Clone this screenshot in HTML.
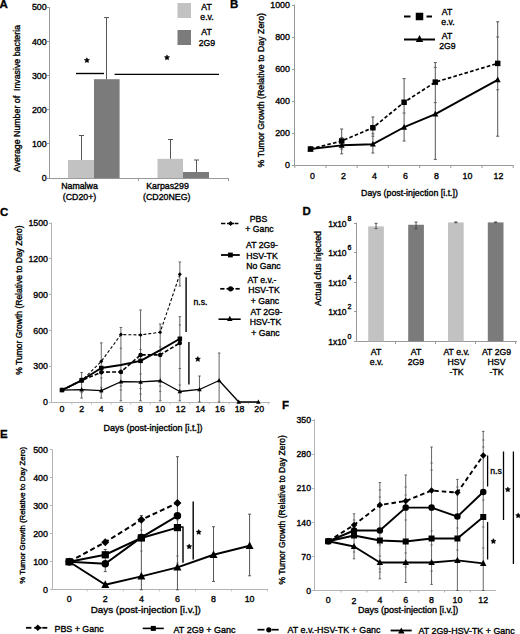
<!DOCTYPE html>
<html><head><meta charset="utf-8"><style>
html,body{margin:0;padding:0;background:#fff;}
svg{display:block;font-family:"Liberation Sans", sans-serif;}
</style></head><body>
<svg width="520" height="634" viewBox="0 0 520 634">
<rect width="520" height="634" fill="#fff"/>
<text x="-0.4" y="8.2" font-size="11.5" text-anchor="start" font-weight="bold" fill="#000" stroke="#000" stroke-width="0.3">A</text>
<line x1="49.5" y1="7.1" x2="49.5" y2="178.5" stroke="#999999" stroke-width="1"/>
<line x1="47" y1="178.5" x2="49.5" y2="178.5" stroke="#999999" stroke-width="1"/>
<text x="46.7" y="181.29999999999998" font-size="8.9" text-anchor="end" fill="#000" stroke="#000" stroke-width="0.35">0</text>
<line x1="47" y1="143.5" x2="49.5" y2="143.5" stroke="#999999" stroke-width="1"/>
<text x="46.7" y="147.09999999999997" font-size="8.9" text-anchor="end" fill="#000" stroke="#000" stroke-width="0.35">100</text>
<line x1="47" y1="109.5" x2="49.5" y2="109.5" stroke="#999999" stroke-width="1"/>
<text x="46.7" y="112.89999999999999" font-size="8.9" text-anchor="end" fill="#000" stroke="#000" stroke-width="0.35">200</text>
<line x1="47" y1="75.5" x2="49.5" y2="75.5" stroke="#999999" stroke-width="1"/>
<text x="46.7" y="78.69999999999999" font-size="8.9" text-anchor="end" fill="#000" stroke="#000" stroke-width="0.35">300</text>
<line x1="47" y1="41.5" x2="49.5" y2="41.5" stroke="#999999" stroke-width="1"/>
<text x="46.7" y="44.499999999999986" font-size="8.9" text-anchor="end" fill="#000" stroke="#000" stroke-width="0.35">400</text>
<line x1="47" y1="7.5" x2="49.5" y2="7.5" stroke="#999999" stroke-width="1"/>
<text x="46.7" y="10.299999999999994" font-size="8.9" text-anchor="end" fill="#000" stroke="#000" stroke-width="0.35">500</text>
<line x1="49" y1="178.5" x2="229" y2="178.5" stroke="#999999" stroke-width="1"/>
<line x1="138.5" y1="178.5" x2="138.5" y2="181" stroke="#999999" stroke-width="1"/>
<line x1="228.5" y1="178.5" x2="228.5" y2="181" stroke="#999999" stroke-width="1"/>
<rect x="68" y="160" width="26" height="18.1" fill="#c2c2c2"/>
<rect x="94" y="79.2" width="25.6" height="98.9" fill="#7b7b7b"/>
<rect x="157.5" y="158.8" width="25.5" height="19.3" fill="#c2c2c2"/>
<rect x="183" y="172" width="26" height="6.1" fill="#7b7b7b"/>
<line x1="81.5" y1="135.5" x2="81.5" y2="160" stroke="#555" stroke-width="1"/>
<line x1="79.0" y1="135.5" x2="84.0" y2="135.5" stroke="#555" stroke-width="1"/>
<line x1="106.5" y1="17.6" x2="106.5" y2="79.2" stroke="#555" stroke-width="1"/>
<line x1="104.0" y1="17.6" x2="109.0" y2="17.6" stroke="#555" stroke-width="1"/>
<line x1="170.5" y1="139.5" x2="170.5" y2="158.8" stroke="#555" stroke-width="1"/>
<line x1="168.0" y1="139.5" x2="173.0" y2="139.5" stroke="#555" stroke-width="1"/>
<line x1="196.5" y1="160" x2="196.5" y2="172" stroke="#555" stroke-width="1"/>
<line x1="194.0" y1="160" x2="199.0" y2="160" stroke="#555" stroke-width="1"/>
<line x1="76" y1="73.5" x2="104" y2="73.5" stroke="#000" stroke-width="1.4"/>
<line x1="114.6" y1="74.4" x2="219" y2="74.4" stroke="#000" stroke-width="1.4"/>
<polygon points="86.90,57.70 87.69,59.31 89.47,59.57 88.18,60.82 88.49,62.58 86.90,61.75 85.31,62.58 85.62,60.82 84.33,59.57 86.11,59.31" fill="#000" stroke="#000" stroke-width="0.5" stroke-linejoin="round"/>
<polygon points="167.00,54.90 167.79,56.51 169.57,56.77 168.28,58.02 168.59,59.78 167.00,58.95 165.41,59.78 165.72,58.02 164.43,56.77 166.21,56.51" fill="#000" stroke="#000" stroke-width="0.5" stroke-linejoin="round"/>
<rect x="177.5" y="3" width="13.5" height="15" fill="#c2c2c2"/>
<rect x="177.5" y="30" width="13.5" height="15" fill="#7b7b7b"/>
<text x="206.5" y="9.5" font-size="8.7" text-anchor="middle" fill="#000" stroke="#000" stroke-width="0.35">AT</text>
<text x="207" y="19.6" font-size="8.7" text-anchor="middle" fill="#000" stroke="#000" stroke-width="0.35">e.v.</text>
<text x="206.5" y="35.3" font-size="8.7" text-anchor="middle" fill="#000" stroke="#000" stroke-width="0.35">AT</text>
<text x="207" y="46.3" font-size="8.7" text-anchor="middle" fill="#000" stroke="#000" stroke-width="0.35">2G9</text>
<text x="79.5" y="189.3" font-size="8.8" text-anchor="middle" fill="#000" stroke="#000" stroke-width="0.35">Namalwa</text>
<text x="79.5" y="199.6" font-size="8.8" text-anchor="middle" fill="#000" stroke="#000" stroke-width="0.35">(CD20+)</text>
<text x="167.5" y="189.3" font-size="8.8" text-anchor="middle" fill="#000" stroke="#000" stroke-width="0.35">Karpas299</text>
<text x="166.8" y="199.6" font-size="8.8" text-anchor="middle" fill="#000" stroke="#000" stroke-width="0.35">(CD20NEG)</text>
<text x="20.2" y="98.5" font-size="8.8" text-anchor="middle" transform="rotate(-90 20.2 98.5)" fill="#000" stroke="#000" stroke-width="0.35" xml:space="preserve">Average Number of  Invasive bacteria</text>
<text x="230.0" y="8.0" font-size="11.5" text-anchor="start" font-weight="bold" fill="#000" stroke="#000" stroke-width="0.3">B</text>
<line x1="294.5" y1="4.5" x2="294.5" y2="165.5" stroke="#999999" stroke-width="1"/>
<line x1="292" y1="165.5" x2="294.5" y2="165.5" stroke="#999999" stroke-width="1"/>
<text x="290.0" y="168.2" font-size="8.9" text-anchor="end" fill="#000" stroke="#000" stroke-width="0.35">0</text>
<line x1="292" y1="133.5" x2="294.5" y2="133.5" stroke="#999999" stroke-width="1"/>
<text x="290.0" y="136.2" font-size="8.9" text-anchor="end" fill="#000" stroke="#000" stroke-width="0.35">200</text>
<line x1="292" y1="101.5" x2="294.5" y2="101.5" stroke="#999999" stroke-width="1"/>
<text x="290.0" y="104.2" font-size="8.9" text-anchor="end" fill="#000" stroke="#000" stroke-width="0.35">400</text>
<line x1="292" y1="69.5" x2="294.5" y2="69.5" stroke="#999999" stroke-width="1"/>
<text x="290.0" y="72.2" font-size="8.9" text-anchor="end" fill="#000" stroke="#000" stroke-width="0.35">600</text>
<line x1="292" y1="37.5" x2="294.5" y2="37.5" stroke="#999999" stroke-width="1"/>
<text x="290.0" y="40.2" font-size="8.9" text-anchor="end" fill="#000" stroke="#000" stroke-width="0.35">800</text>
<line x1="292" y1="5.5" x2="294.5" y2="5.5" stroke="#999999" stroke-width="1"/>
<text x="290.0" y="8.2" font-size="8.9" text-anchor="end" fill="#000" stroke="#000" stroke-width="0.35">1000</text>
<line x1="294.5" y1="165.5" x2="513.5" y2="165.5" stroke="#999999" stroke-width="1"/>
<line x1="294.8" y1="165.5" x2="294.8" y2="168" stroke="#999999" stroke-width="1"/>
<line x1="326.0" y1="165.5" x2="326.0" y2="168" stroke="#999999" stroke-width="1"/>
<line x1="357.2" y1="165.5" x2="357.2" y2="168" stroke="#999999" stroke-width="1"/>
<line x1="388.4" y1="165.5" x2="388.4" y2="168" stroke="#999999" stroke-width="1"/>
<line x1="419.6" y1="165.5" x2="419.6" y2="168" stroke="#999999" stroke-width="1"/>
<line x1="450.8" y1="165.5" x2="450.8" y2="168" stroke="#999999" stroke-width="1"/>
<line x1="482.0" y1="165.5" x2="482.0" y2="168" stroke="#999999" stroke-width="1"/>
<line x1="513.2" y1="165.5" x2="513.2" y2="168" stroke="#999999" stroke-width="1"/>
<text x="312.4" y="178.6" font-size="8.8" text-anchor="middle" fill="#000" stroke="#000" stroke-width="0.35">0</text>
<text x="343.4" y="178.6" font-size="8.8" text-anchor="middle" fill="#000" stroke="#000" stroke-width="0.35">2</text>
<text x="374.4" y="178.6" font-size="8.8" text-anchor="middle" fill="#000" stroke="#000" stroke-width="0.35">4</text>
<text x="405.4" y="178.6" font-size="8.8" text-anchor="middle" fill="#000" stroke="#000" stroke-width="0.35">6</text>
<text x="436.4" y="178.6" font-size="8.8" text-anchor="middle" fill="#000" stroke="#000" stroke-width="0.35">8</text>
<text x="467.4" y="178.6" font-size="8.8" text-anchor="middle" fill="#000" stroke="#000" stroke-width="0.35">10</text>
<text x="498.4" y="178.6" font-size="8.8" text-anchor="middle" fill="#000" stroke="#000" stroke-width="0.35">12</text>
<text x="409.5" y="195.5" font-size="8.8" text-anchor="middle" fill="#000" stroke="#000" stroke-width="0.35">Days (post-injection [i.t.])</text>
<text x="264.5" y="90.2" font-size="8.8" text-anchor="middle" transform="rotate(-90 264.5 90.2)" fill="#000" stroke="#000" stroke-width="0.35">% Tumor Growth (Relative to Day Zero)</text>
<line x1="341.7" y1="129.0" x2="341.7" y2="153.8" stroke="#555" stroke-width="1"/>
<line x1="340.2" y1="129.0" x2="343.2" y2="129.0" stroke="#555" stroke-width="1"/>
<line x1="340.2" y1="153.8" x2="343.2" y2="153.8" stroke="#555" stroke-width="1"/>
<line x1="372.9" y1="117.0" x2="372.9" y2="153.0" stroke="#555" stroke-width="1"/>
<line x1="371.4" y1="117.0" x2="374.4" y2="117.0" stroke="#555" stroke-width="1"/>
<line x1="371.4" y1="153.0" x2="374.4" y2="153.0" stroke="#555" stroke-width="1"/>
<line x1="404.1" y1="78.6" x2="404.1" y2="141.0" stroke="#555" stroke-width="1"/>
<line x1="402.6" y1="78.6" x2="405.6" y2="78.6" stroke="#555" stroke-width="1"/>
<line x1="402.6" y1="141.0" x2="405.6" y2="141.0" stroke="#555" stroke-width="1"/>
<line x1="435.3" y1="62.599999999999994" x2="435.3" y2="159.4" stroke="#555" stroke-width="1"/>
<line x1="433.8" y1="62.599999999999994" x2="436.8" y2="62.599999999999994" stroke="#555" stroke-width="1"/>
<line x1="433.8" y1="159.4" x2="436.8" y2="159.4" stroke="#555" stroke-width="1"/>
<line x1="497.7" y1="21.799999999999983" x2="497.7" y2="136.2" stroke="#555" stroke-width="1"/>
<line x1="496.2" y1="21.799999999999983" x2="499.2" y2="21.799999999999983" stroke="#555" stroke-width="1"/>
<line x1="496.2" y1="136.2" x2="499.2" y2="136.2" stroke="#555" stroke-width="1"/>
<line x1="340.2" y1="137.48" x2="343.2" y2="137.48" stroke="#555" stroke-width="0.9"/>
<line x1="340.2" y1="149.0" x2="343.2" y2="149.0" stroke="#555" stroke-width="0.9"/>
<line x1="371.4" y1="133.8" x2="374.4" y2="133.8" stroke="#555" stroke-width="0.9"/>
<line x1="371.4" y1="136.2" x2="374.4" y2="136.2" stroke="#555" stroke-width="0.9"/>
<line x1="402.6" y1="113.0" x2="405.6" y2="113.0" stroke="#555" stroke-width="0.9"/>
<line x1="402.6" y1="126.6" x2="405.6" y2="126.6" stroke="#555" stroke-width="0.9"/>
<line x1="433.8" y1="67.39999999999999" x2="436.8" y2="67.39999999999999" stroke="#555" stroke-width="0.9"/>
<line x1="433.8" y1="102.6" x2="436.8" y2="102.6" stroke="#555" stroke-width="0.9"/>
<line x1="496.2" y1="37.0" x2="499.2" y2="37.0" stroke="#555" stroke-width="0.9"/>
<line x1="496.2" y1="89.8" x2="499.2" y2="89.8" stroke="#555" stroke-width="0.9"/>
<polyline points="310.50,149.00 341.70,141.00 372.90,127.72 404.10,102.28 435.30,82.12 497.70,63.40" fill="none" stroke="#000" stroke-width="1.7" stroke-dasharray="3.6,2.2" stroke-linejoin="round"/>
<polyline points="310.50,149.00 341.70,145.32 372.90,144.20 404.10,127.24 435.30,114.12 497.70,79.88" fill="none" stroke="#000" stroke-width="1.9" stroke-linejoin="round"/>
<rect x="307.75" y="146.25" width="5.5" height="5.5" fill="#000"/>
<rect x="338.95" y="138.25" width="5.5" height="5.5" fill="#000"/>
<rect x="370.15" y="124.97" width="5.5" height="5.5" fill="#000"/>
<rect x="401.35" y="99.53" width="5.5" height="5.5" fill="#000"/>
<rect x="432.55" y="79.37" width="5.5" height="5.5" fill="#000"/>
<rect x="494.95" y="60.65" width="5.5" height="5.5" fill="#000"/>
<polygon points="310.50,145.70 313.50,151.40 307.50,151.40" fill="#000"/>
<polygon points="341.70,142.02 344.70,147.72 338.70,147.72" fill="#000"/>
<polygon points="372.90,140.90 375.90,146.60 369.90,146.60" fill="#000"/>
<polygon points="404.10,123.94 407.10,129.64 401.10,129.64" fill="#000"/>
<polygon points="435.30,110.82 438.30,116.52 432.30,116.52" fill="#000"/>
<polygon points="497.70,76.58 500.70,82.28 494.70,82.28" fill="#000"/>
<line x1="404" y1="16.5" x2="410.5" y2="16.5" stroke="#000" stroke-width="2"/>
<line x1="426.5" y1="16.5" x2="432" y2="16.5" stroke="#000" stroke-width="2"/>
<rect x="415.75" y="12.75" width="7.5" height="7.5" fill="#000"/>
<text x="447" y="14.5" font-size="8.7" text-anchor="middle" fill="#000" stroke="#000" stroke-width="0.35">AT</text>
<text x="448" y="25" font-size="8.7" text-anchor="middle" fill="#000" stroke="#000" stroke-width="0.35">e.v.</text>
<line x1="404" y1="39.5" x2="435" y2="39.5" stroke="#000" stroke-width="2"/>
<polygon points="419.50,34.88 423.25,42.00 415.75,42.00" fill="#000"/>
<text x="447" y="38.5" font-size="8.7" text-anchor="middle" fill="#000" stroke="#000" stroke-width="0.35">AT</text>
<text x="447.5" y="49" font-size="8.7" text-anchor="middle" fill="#000" stroke="#000" stroke-width="0.35">2G9</text>
<text x="0.0" y="215.6" font-size="11.5" text-anchor="start" font-weight="bold" fill="#000" stroke="#000" stroke-width="0.3">C</text>
<line x1="51.5" y1="222.5" x2="51.5" y2="402.5" stroke="#b4b4b4" stroke-width="1"/>
<line x1="49" y1="402.5" x2="51.5" y2="402.5" stroke="#b4b4b4" stroke-width="1"/>
<text x="48.0" y="405.2" font-size="8.8" text-anchor="end" fill="#000" stroke="#000" stroke-width="0.35">0</text>
<line x1="49" y1="366.5" x2="51.5" y2="366.5" stroke="#b4b4b4" stroke-width="1"/>
<text x="48.0" y="369.40999999999997" font-size="8.8" text-anchor="end" fill="#000" stroke="#000" stroke-width="0.35">300</text>
<line x1="49" y1="330.5" x2="51.5" y2="330.5" stroke="#b4b4b4" stroke-width="1"/>
<text x="48.0" y="333.62" font-size="8.8" text-anchor="end" fill="#000" stroke="#000" stroke-width="0.35">600</text>
<line x1="49" y1="294.5" x2="51.5" y2="294.5" stroke="#b4b4b4" stroke-width="1"/>
<text x="48.0" y="297.83" font-size="8.8" text-anchor="end" fill="#000" stroke="#000" stroke-width="0.35">900</text>
<line x1="49" y1="258.5" x2="51.5" y2="258.5" stroke="#b4b4b4" stroke-width="1"/>
<text x="48.0" y="262.04" font-size="8.8" text-anchor="end" fill="#000" stroke="#000" stroke-width="0.35">1200</text>
<line x1="49" y1="223.5" x2="51.5" y2="223.5" stroke="#b4b4b4" stroke-width="1"/>
<text x="48.0" y="226.24999999999997" font-size="8.8" text-anchor="end" fill="#000" stroke="#000" stroke-width="0.35">1500</text>
<line x1="51.5" y1="402.5" x2="270" y2="402.5" stroke="#b4b4b4" stroke-width="1"/>
<line x1="71.82" y1="402.5" x2="71.82" y2="404.5" stroke="#b4b4b4" stroke-width="0.8"/>
<line x1="91.46000000000001" y1="402.5" x2="91.46000000000001" y2="404.5" stroke="#b4b4b4" stroke-width="0.8"/>
<line x1="111.1" y1="402.5" x2="111.1" y2="404.5" stroke="#b4b4b4" stroke-width="0.8"/>
<line x1="130.74" y1="402.5" x2="130.74" y2="404.5" stroke="#b4b4b4" stroke-width="0.8"/>
<line x1="150.38" y1="402.5" x2="150.38" y2="404.5" stroke="#b4b4b4" stroke-width="0.8"/>
<line x1="170.01999999999998" y1="402.5" x2="170.01999999999998" y2="404.5" stroke="#b4b4b4" stroke-width="0.8"/>
<line x1="189.66" y1="402.5" x2="189.66" y2="404.5" stroke="#b4b4b4" stroke-width="0.8"/>
<line x1="209.3" y1="402.5" x2="209.3" y2="404.5" stroke="#b4b4b4" stroke-width="0.8"/>
<line x1="228.94" y1="402.5" x2="228.94" y2="404.5" stroke="#b4b4b4" stroke-width="0.8"/>
<line x1="248.57999999999998" y1="402.5" x2="248.57999999999998" y2="404.5" stroke="#b4b4b4" stroke-width="0.8"/>
<line x1="268.21999999999997" y1="402.5" x2="268.21999999999997" y2="404.5" stroke="#b4b4b4" stroke-width="0.8"/>
<text x="62.0" y="412.3" font-size="8.8" text-anchor="middle" fill="#000" stroke="#000" stroke-width="0.35">0</text>
<text x="81.64" y="412.3" font-size="8.8" text-anchor="middle" fill="#000" stroke="#000" stroke-width="0.35">2</text>
<text x="101.28" y="412.3" font-size="8.8" text-anchor="middle" fill="#000" stroke="#000" stroke-width="0.35">4</text>
<text x="120.92" y="412.3" font-size="8.8" text-anchor="middle" fill="#000" stroke="#000" stroke-width="0.35">6</text>
<text x="140.56" y="412.3" font-size="8.8" text-anchor="middle" fill="#000" stroke="#000" stroke-width="0.35">8</text>
<text x="160.2" y="412.3" font-size="8.8" text-anchor="middle" fill="#000" stroke="#000" stroke-width="0.35">10</text>
<text x="180.64000000000001" y="412.3" font-size="8.8" text-anchor="middle" fill="#000" stroke="#000" stroke-width="0.35">12</text>
<text x="200.28000000000003" y="412.3" font-size="8.8" text-anchor="middle" fill="#000" stroke="#000" stroke-width="0.35">14</text>
<text x="219.92000000000002" y="412.3" font-size="8.8" text-anchor="middle" fill="#000" stroke="#000" stroke-width="0.35">16</text>
<text x="239.56" y="412.3" font-size="8.8" text-anchor="middle" fill="#000" stroke="#000" stroke-width="0.35">18</text>
<text x="259.2" y="412.3" font-size="8.8" text-anchor="middle" fill="#000" stroke="#000" stroke-width="0.35">20</text>
<text x="153" y="430.5" font-size="9.0" text-anchor="middle" fill="#000" stroke="#000" stroke-width="0.35">Days (post-injection [i.t.])</text>
<text x="22.2" y="300.1" font-size="8.5" text-anchor="middle" transform="rotate(-90 22.2 300.1)" fill="#000" stroke="#000" stroke-width="0.35">% Tumor Growth (Relative to Day Zero)</text>
<line x1="81.64" y1="372.5" x2="81.64" y2="398.1" stroke="#555" stroke-width="0.9"/>
<line x1="80.34" y1="372.5" x2="82.94" y2="372.5" stroke="#555" stroke-width="0.9"/>
<line x1="80.34" y1="398.1" x2="82.94" y2="398.1" stroke="#555" stroke-width="0.9"/>
<line x1="80.44" y1="377.9" x2="82.84" y2="377.9" stroke="#555" stroke-width="0.8"/>
<line x1="80.44" y1="392.7" x2="82.84" y2="392.7" stroke="#555" stroke-width="0.8"/>
<line x1="101.28" y1="342.9" x2="101.28" y2="398.1" stroke="#555" stroke-width="0.9"/>
<line x1="99.98" y1="342.9" x2="102.58" y2="342.9" stroke="#555" stroke-width="0.9"/>
<line x1="99.98" y1="398.1" x2="102.58" y2="398.1" stroke="#555" stroke-width="0.9"/>
<line x1="100.08" y1="360.4" x2="102.48" y2="360.4" stroke="#555" stroke-width="0.8"/>
<line x1="100.08" y1="377.9" x2="102.48" y2="377.9" stroke="#555" stroke-width="0.8"/>
<line x1="100.08" y1="387.3" x2="102.48" y2="387.3" stroke="#555" stroke-width="0.8"/>
<line x1="100.08" y1="392.7" x2="102.48" y2="392.7" stroke="#555" stroke-width="0.8"/>
<line x1="120.92" y1="327.5" x2="120.92" y2="400.8" stroke="#555" stroke-width="0.9"/>
<line x1="119.62" y1="327.5" x2="122.22" y2="327.5" stroke="#555" stroke-width="0.9"/>
<line x1="119.62" y1="400.8" x2="122.22" y2="400.8" stroke="#555" stroke-width="0.9"/>
<line x1="119.72" y1="348.3" x2="122.12" y2="348.3" stroke="#555" stroke-width="0.8"/>
<line x1="119.72" y1="369.8" x2="122.12" y2="369.8" stroke="#555" stroke-width="0.8"/>
<line x1="119.72" y1="386" x2="122.12" y2="386" stroke="#555" stroke-width="0.8"/>
<line x1="119.72" y1="390" x2="122.12" y2="390" stroke="#555" stroke-width="0.8"/>
<line x1="140.56" y1="310" x2="140.56" y2="400.8" stroke="#555" stroke-width="0.9"/>
<line x1="139.26" y1="310" x2="141.86" y2="310" stroke="#555" stroke-width="0.9"/>
<line x1="139.26" y1="400.8" x2="141.86" y2="400.8" stroke="#555" stroke-width="0.9"/>
<line x1="139.36" y1="349.6" x2="141.76" y2="349.6" stroke="#555" stroke-width="0.8"/>
<line x1="139.36" y1="374" x2="141.76" y2="374" stroke="#555" stroke-width="0.8"/>
<line x1="139.36" y1="388.6" x2="141.76" y2="388.6" stroke="#555" stroke-width="0.8"/>
<line x1="139.36" y1="394" x2="141.76" y2="394" stroke="#555" stroke-width="0.8"/>
<line x1="160.2" y1="324" x2="160.2" y2="400.8" stroke="#555" stroke-width="0.9"/>
<line x1="158.89999999999998" y1="324" x2="161.5" y2="324" stroke="#555" stroke-width="0.9"/>
<line x1="158.89999999999998" y1="400.8" x2="161.5" y2="400.8" stroke="#555" stroke-width="0.9"/>
<line x1="159.0" y1="347" x2="161.39999999999998" y2="347" stroke="#555" stroke-width="0.8"/>
<line x1="159.0" y1="351" x2="161.39999999999998" y2="351" stroke="#555" stroke-width="0.8"/>
<line x1="159.0" y1="386" x2="161.39999999999998" y2="386" stroke="#555" stroke-width="0.8"/>
<line x1="159.0" y1="391.3" x2="161.39999999999998" y2="391.3" stroke="#555" stroke-width="0.8"/>
<line x1="179.84" y1="262" x2="179.84" y2="286" stroke="#555" stroke-width="0.9"/>
<line x1="178.54" y1="262" x2="181.14000000000001" y2="262" stroke="#555" stroke-width="0.9"/>
<line x1="178.54" y1="286" x2="181.14000000000001" y2="286" stroke="#555" stroke-width="0.9"/>
<line x1="179.84" y1="316.7" x2="179.84" y2="400.8" stroke="#555" stroke-width="0.9"/>
<line x1="178.54" y1="316.7" x2="181.14000000000001" y2="316.7" stroke="#555" stroke-width="0.9"/>
<line x1="178.54" y1="400.8" x2="181.14000000000001" y2="400.8" stroke="#555" stroke-width="0.9"/>
<line x1="178.64000000000001" y1="325" x2="181.04" y2="325" stroke="#555" stroke-width="0.8"/>
<line x1="178.64000000000001" y1="368.5" x2="181.04" y2="368.5" stroke="#555" stroke-width="0.8"/>
<line x1="178.64000000000001" y1="385" x2="181.04" y2="385" stroke="#555" stroke-width="0.8"/>
<line x1="199.48000000000002" y1="376" x2="199.48000000000002" y2="402" stroke="#555" stroke-width="0.9"/>
<line x1="198.18" y1="376" x2="200.78000000000003" y2="376" stroke="#555" stroke-width="0.9"/>
<line x1="198.18" y1="402" x2="200.78000000000003" y2="402" stroke="#555" stroke-width="0.9"/>
<line x1="219.12" y1="353" x2="219.12" y2="402" stroke="#555" stroke-width="0.9"/>
<line x1="217.82" y1="353" x2="220.42000000000002" y2="353" stroke="#555" stroke-width="0.9"/>
<line x1="217.82" y1="402" x2="220.42000000000002" y2="402" stroke="#555" stroke-width="0.9"/>
<polyline points="62.00,390.07 81.64,380.76 101.28,361.44 120.92,334.60 140.56,334.95 160.20,332.21 179.84,274.35" fill="none" stroke="#000" stroke-width="1.1" stroke-dasharray="3,2" stroke-linejoin="round"/>
<polyline points="62.00,390.07 81.64,380.29 101.28,368.00 120.92,365.02 140.56,360.84 160.20,350.10 179.84,338.77" fill="none" stroke="#000" stroke-width="1.9" stroke-linejoin="round"/>
<polyline points="62.00,390.07 81.64,380.53 101.28,372.18 120.92,371.94 140.56,354.88 160.20,354.88 179.84,342.95" fill="none" stroke="#000" stroke-width="1.6" stroke-dasharray="4,2" stroke-linejoin="round"/>
<polyline points="62.00,390.07 81.64,389.59 101.28,390.55 120.92,381.72 140.56,381.96 160.20,380.76 179.84,391.50 199.48,389.47 219.12,380.53 238.76,402.00 258.40,402.00" fill="none" stroke="#000" stroke-width="1.3" stroke-linejoin="round"/>
<polygon points="62.00,388.07 64.00,390.07 62.00,392.07 60.00,390.07" fill="#000"/>
<polygon points="81.64,378.76 83.64,380.76 81.64,382.76 79.64,380.76" fill="#000"/>
<polygon points="101.28,359.44 103.28,361.44 101.28,363.44 99.28,361.44" fill="#000"/>
<polygon points="120.92,332.60 122.92,334.60 120.92,336.60 118.92,334.60" fill="#000"/>
<polygon points="140.56,332.95 142.56,334.95 140.56,336.95 138.56,334.95" fill="#000"/>
<polygon points="160.20,330.21 162.20,332.21 160.20,334.21 158.20,332.21" fill="#000"/>
<polygon points="179.84,272.35 181.84,274.35 179.84,276.35 177.84,274.35" fill="#000"/>
<rect x="59.75" y="387.82" width="4.5" height="4.5" fill="#000"/>
<rect x="79.39" y="378.04" width="4.5" height="4.5" fill="#000"/>
<rect x="99.03" y="365.75" width="4.5" height="4.5" fill="#000"/>
<rect x="138.31" y="358.59" width="4.5" height="4.5" fill="#000"/>
<rect x="177.59" y="336.52" width="4.5" height="4.5" fill="#000"/>
<circle cx="62.00" cy="390.07" r="2.25" fill="#000"/>
<circle cx="81.64" cy="380.53" r="2.25" fill="#000"/>
<circle cx="101.28" cy="372.18" r="2.25" fill="#000"/>
<circle cx="120.92" cy="371.94" r="2.25" fill="#000"/>
<circle cx="140.56" cy="354.88" r="2.25" fill="#000"/>
<circle cx="160.20" cy="354.88" r="2.25" fill="#000"/>
<circle cx="179.84" cy="342.95" r="2.25" fill="#000"/>
<polygon points="62.00,387.59 64.25,391.87 59.75,391.87" fill="#000"/>
<polygon points="81.64,387.12 83.89,391.39 79.39,391.39" fill="#000"/>
<polygon points="101.28,388.07 103.53,392.35 99.03,392.35" fill="#000"/>
<polygon points="120.92,379.24 123.17,383.52 118.67,383.52" fill="#000"/>
<polygon points="140.56,379.48 142.81,383.76 138.31,383.76" fill="#000"/>
<polygon points="160.20,378.29 162.45,382.56 157.95,382.56" fill="#000"/>
<polygon points="179.84,389.03 182.09,393.30 177.59,393.30" fill="#000"/>
<polygon points="199.48,387.00 201.73,391.27 197.23,391.27" fill="#000"/>
<polygon points="219.12,378.05 221.37,382.33 216.87,382.33" fill="#000"/>
<polygon points="238.76,399.52 241.01,403.80 236.51,403.80" fill="#000"/>
<polygon points="258.40,399.52 260.65,403.80 256.15,403.80" fill="#000"/>
<line x1="186.1" y1="277.2" x2="186.1" y2="332.1" stroke="#111" stroke-width="1.5"/>
<line x1="188.9" y1="342" x2="188.9" y2="384.6" stroke="#111" stroke-width="1.5"/>
<text x="200.5" y="305" font-size="8.7" text-anchor="middle" fill="#000" stroke="#000" stroke-width="0.35">n.s.</text>
<polygon points="197.80,356.50 198.59,358.11 200.37,358.37 199.08,359.62 199.39,361.38 197.80,360.55 196.21,361.38 196.52,359.62 195.23,358.37 197.01,358.11" fill="#000" stroke="#000" stroke-width="0.5" stroke-linejoin="round"/>
<line x1="221" y1="223.5" x2="225.4" y2="223.5" stroke="#000" stroke-width="1.5"/>
<line x1="227" y1="223.5" x2="234.2" y2="223.5" stroke="#000" stroke-width="1.5"/>
<line x1="234.8" y1="223.5" x2="238.4" y2="223.5" stroke="#000" stroke-width="1.5"/>
<polygon points="230.60,221.00 233.10,223.50 230.60,226.00 228.10,223.50" fill="#000"/>
<text x="258.5" y="221.5" font-size="8.7" text-anchor="middle" fill="#000" stroke="#000" stroke-width="0.35">PBS</text>
<text x="259.5" y="232" font-size="8.7" text-anchor="middle" fill="#000" stroke="#000" stroke-width="0.35">+ Ganc</text>
<line x1="221" y1="255" x2="239.8" y2="255" stroke="#000" stroke-width="1.8"/>
<rect x="228.00" y="252.60" width="4.8" height="4.8" fill="#000"/>
<text x="262" y="248" font-size="8.7" text-anchor="middle" fill="#000" stroke="#000" stroke-width="0.35">AT 2G9-</text>
<text x="262" y="258.5" font-size="8.7" text-anchor="middle" fill="#000" stroke="#000" stroke-width="0.35">HSV-TK</text>
<text x="263.5" y="268.5" font-size="8.7" text-anchor="middle" fill="#000" stroke="#000" stroke-width="0.35">No Ganc</text>
<line x1="220.2" y1="288.8" x2="224.5" y2="288.8" stroke="#000" stroke-width="1.7"/>
<line x1="226.5" y1="288.8" x2="234" y2="288.8" stroke="#000" stroke-width="1.7"/>
<line x1="235.5" y1="288.8" x2="239.7" y2="288.8" stroke="#000" stroke-width="1.7"/>
<circle cx="230.60" cy="288.80" r="2.6" fill="#000"/>
<text x="262" y="282.5" font-size="8.7" text-anchor="middle" fill="#000" stroke="#000" stroke-width="0.35">AT e.v.-</text>
<text x="264" y="293" font-size="8.7" text-anchor="middle" fill="#000" stroke="#000" stroke-width="0.35">HSV-TK</text>
<text x="265" y="303.5" font-size="8.7" text-anchor="middle" fill="#000" stroke="#000" stroke-width="0.35">+ Ganc</text>
<line x1="218.5" y1="319.2" x2="240.7" y2="319.2" stroke="#000" stroke-width="1.6"/>
<polygon points="229.80,315.78 232.55,321.00 227.05,321.00" fill="#000"/>
<text x="266.5" y="314.5" font-size="8.7" text-anchor="middle" fill="#000" stroke="#000" stroke-width="0.35">AT 2G9-</text>
<text x="265.5" y="325" font-size="8.7" text-anchor="middle" fill="#000" stroke="#000" stroke-width="0.35">HSV-TK</text>
<text x="265.5" y="335.5" font-size="8.7" text-anchor="middle" fill="#000" stroke="#000" stroke-width="0.35">+ Ganc</text>
<text x="302.6" y="215.3" font-size="11.5" text-anchor="start" font-weight="bold" fill="#000" stroke="#000" stroke-width="0.3">D</text>
<line x1="356.5" y1="222.5" x2="356.5" y2="341.5" stroke="#999999" stroke-width="1"/>
<line x1="354" y1="341.5" x2="356.5" y2="341.5" stroke="#999999" stroke-width="1"/>
<text x="346.6" y="344.6" font-size="8.5" text-anchor="end" fill="#000" stroke="#000" stroke-width="0.35">1x10</text>
<text x="347.6" y="338.7" font-size="7.0" text-anchor="start" fill="#000" stroke="#000" stroke-width="0.35">0</text>
<line x1="354" y1="311.5" x2="356.5" y2="311.5" stroke="#999999" stroke-width="1"/>
<text x="346.6" y="315.1" font-size="8.5" text-anchor="end" fill="#000" stroke="#000" stroke-width="0.35">1x10</text>
<text x="347.6" y="309.2" font-size="7.0" text-anchor="start" fill="#000" stroke="#000" stroke-width="0.35">2</text>
<line x1="354" y1="282.5" x2="356.5" y2="282.5" stroke="#999999" stroke-width="1"/>
<text x="346.6" y="285.6" font-size="8.5" text-anchor="end" fill="#000" stroke="#000" stroke-width="0.35">1x10</text>
<text x="347.6" y="279.7" font-size="7.0" text-anchor="start" fill="#000" stroke="#000" stroke-width="0.35">4</text>
<line x1="354" y1="252.5" x2="356.5" y2="252.5" stroke="#999999" stroke-width="1"/>
<text x="346.6" y="256.1" font-size="8.5" text-anchor="end" fill="#000" stroke="#000" stroke-width="0.35">1x10</text>
<text x="347.6" y="250.20000000000002" font-size="7.0" text-anchor="start" fill="#000" stroke="#000" stroke-width="0.35">6</text>
<line x1="354" y1="223.5" x2="356.5" y2="223.5" stroke="#999999" stroke-width="1"/>
<text x="346.6" y="226.60000000000002" font-size="8.5" text-anchor="end" fill="#000" stroke="#000" stroke-width="0.35">1x10</text>
<text x="347.6" y="220.70000000000002" font-size="7.0" text-anchor="start" fill="#000" stroke="#000" stroke-width="0.35">8</text>
<line x1="356.5" y1="341.5" x2="517" y2="341.5" stroke="#999999" stroke-width="1"/>
<line x1="395.5" y1="341.5" x2="395.5" y2="344" stroke="#999999" stroke-width="1"/>
<line x1="435.5" y1="341.5" x2="435.5" y2="344" stroke="#999999" stroke-width="1"/>
<line x1="475.5" y1="341.5" x2="475.5" y2="344" stroke="#999999" stroke-width="1"/>
<line x1="515.5" y1="341.5" x2="515.5" y2="344" stroke="#999999" stroke-width="1"/>
<rect x="368.2" y="226.3975" width="15.7" height="114.9025" fill="#c2c2c2"/>
<line x1="376.05" y1="223.3" x2="376.05" y2="228.61" stroke="#444" stroke-width="0.9"/>
<line x1="374.55" y1="223.3" x2="377.55" y2="223.3" stroke="#444" stroke-width="0.9"/>
<line x1="374.55" y1="228.61" x2="377.55" y2="228.61" stroke="#444" stroke-width="0.9"/>
<rect x="408.2" y="224.775" width="15.7" height="116.525" fill="#7b7b7b"/>
<line x1="416.05" y1="222.12" x2="416.05" y2="228.7575" stroke="#444" stroke-width="0.9"/>
<line x1="414.55" y1="222.12" x2="417.55" y2="222.12" stroke="#444" stroke-width="0.9"/>
<line x1="414.55" y1="228.7575" x2="417.55" y2="228.7575" stroke="#444" stroke-width="0.9"/>
<rect x="448" y="222.41500000000002" width="15.7" height="118.88499999999999" fill="#c2c2c2"/>
<line x1="455.85" y1="221.97250000000003" x2="455.85" y2="222.71000000000004" stroke="#444" stroke-width="0.9"/>
<line x1="454.35" y1="221.97250000000003" x2="457.35" y2="221.97250000000003" stroke="#444" stroke-width="0.9"/>
<line x1="454.35" y1="222.71000000000004" x2="457.35" y2="222.71000000000004" stroke="#444" stroke-width="0.9"/>
<rect x="487.8" y="222.41500000000002" width="15.7" height="118.88499999999999" fill="#7b7b7b"/>
<line x1="495.65000000000003" y1="221.97250000000003" x2="495.65000000000003" y2="222.71000000000004" stroke="#444" stroke-width="0.9"/>
<line x1="494.15000000000003" y1="221.97250000000003" x2="497.15000000000003" y2="221.97250000000003" stroke="#444" stroke-width="0.9"/>
<line x1="494.15000000000003" y1="222.71000000000004" x2="497.15000000000003" y2="222.71000000000004" stroke="#444" stroke-width="0.9"/>
<text x="376" y="354.5" font-size="8.7" text-anchor="middle" fill="#000" stroke="#000" stroke-width="0.35">AT</text>
<text x="376.5" y="365" font-size="8.7" text-anchor="middle" fill="#000" stroke="#000" stroke-width="0.35">e.v.</text>
<text x="416" y="354.5" font-size="8.7" text-anchor="middle" fill="#000" stroke="#000" stroke-width="0.35">AT</text>
<text x="416" y="365" font-size="8.7" text-anchor="middle" fill="#000" stroke="#000" stroke-width="0.35">2G9</text>
<text x="456.5" y="354.5" font-size="8.7" text-anchor="middle" fill="#000" stroke="#000" stroke-width="0.35">AT e.v.</text>
<text x="456.5" y="364.5" font-size="8.7" text-anchor="middle" fill="#000" stroke="#000" stroke-width="0.35">HSV</text>
<text x="456.5" y="375" font-size="8.7" text-anchor="middle" fill="#000" stroke="#000" stroke-width="0.35">-TK</text>
<text x="496.5" y="354.5" font-size="8.7" text-anchor="middle" fill="#000" stroke="#000" stroke-width="0.35">AT 2G9</text>
<text x="496.5" y="364.5" font-size="8.7" text-anchor="middle" fill="#000" stroke="#000" stroke-width="0.35">HSV</text>
<text x="496.5" y="375" font-size="8.7" text-anchor="middle" fill="#000" stroke="#000" stroke-width="0.35">-TK</text>
<text x="321" y="268.5" font-size="8.7" text-anchor="middle" transform="rotate(-90 321 268.5)" fill="#000" stroke="#000" stroke-width="0.35">Actual cfus injected</text>
<text x="0.1" y="438.1" font-size="11.5" text-anchor="start" font-weight="bold" fill="#000" stroke="#000" stroke-width="0.3">E</text>
<line x1="52.5" y1="449.5" x2="52.5" y2="590" stroke="#b4b4b4" stroke-width="1"/>
<line x1="50" y1="589.5" x2="52.5" y2="589.5" stroke="#b4b4b4" stroke-width="1"/>
<text x="48" y="593.0" font-size="8.9" text-anchor="end" fill="#000" stroke="#000" stroke-width="0.35">0</text>
<line x1="50" y1="561.5" x2="52.5" y2="561.5" stroke="#b4b4b4" stroke-width="1"/>
<text x="48" y="564.98" font-size="8.9" text-anchor="end" fill="#000" stroke="#000" stroke-width="0.35">100</text>
<line x1="50" y1="533.5" x2="52.5" y2="533.5" stroke="#b4b4b4" stroke-width="1"/>
<text x="48" y="536.96" font-size="8.9" text-anchor="end" fill="#000" stroke="#000" stroke-width="0.35">200</text>
<line x1="50" y1="505.5" x2="52.5" y2="505.5" stroke="#b4b4b4" stroke-width="1"/>
<text x="48" y="508.93999999999994" font-size="8.9" text-anchor="end" fill="#000" stroke="#000" stroke-width="0.35">300</text>
<line x1="50" y1="477.5" x2="52.5" y2="477.5" stroke="#b4b4b4" stroke-width="1"/>
<text x="48" y="480.91999999999996" font-size="8.9" text-anchor="end" fill="#000" stroke="#000" stroke-width="0.35">400</text>
<line x1="50" y1="449.5" x2="52.5" y2="449.5" stroke="#b4b4b4" stroke-width="1"/>
<text x="48" y="452.8999999999999" font-size="8.9" text-anchor="end" fill="#000" stroke="#000" stroke-width="0.35">500</text>
<line x1="52.5" y1="589.5" x2="268" y2="589.5" stroke="#b4b4b4" stroke-width="1"/>
<line x1="87.24000000000001" y1="589.5" x2="87.24000000000001" y2="591.5" stroke="#b4b4b4" stroke-width="0.8"/>
<line x1="123.32" y1="589.5" x2="123.32" y2="591.5" stroke="#b4b4b4" stroke-width="0.8"/>
<line x1="159.4" y1="589.5" x2="159.4" y2="591.5" stroke="#b4b4b4" stroke-width="0.8"/>
<line x1="195.48" y1="589.5" x2="195.48" y2="591.5" stroke="#b4b4b4" stroke-width="0.8"/>
<line x1="231.55999999999997" y1="589.5" x2="231.55999999999997" y2="591.5" stroke="#b4b4b4" stroke-width="0.8"/>
<line x1="267.64" y1="589.5" x2="267.64" y2="591.5" stroke="#b4b4b4" stroke-width="0.8"/>
<text x="69.2" y="601.5" font-size="8.9" text-anchor="middle" fill="#000" stroke="#000" stroke-width="0.35">0</text>
<text x="105.28" y="601.5" font-size="8.9" text-anchor="middle" fill="#000" stroke="#000" stroke-width="0.35">2</text>
<text x="141.36" y="601.5" font-size="8.9" text-anchor="middle" fill="#000" stroke="#000" stroke-width="0.35">4</text>
<text x="177.44" y="601.5" font-size="8.9" text-anchor="middle" fill="#000" stroke="#000" stroke-width="0.35">6</text>
<text x="213.51999999999998" y="601.5" font-size="8.9" text-anchor="middle" fill="#000" stroke="#000" stroke-width="0.35">8</text>
<text x="249.59999999999997" y="601.5" font-size="8.9" text-anchor="middle" fill="#000" stroke="#000" stroke-width="0.35">10</text>
<text x="145.7" y="612.6" font-size="9.9" text-anchor="middle" fill="#000" stroke="#000" stroke-width="0.35">Days (post-injection [i.v.])</text>
<text x="24.6" y="515.3" font-size="7.8" text-anchor="middle" transform="rotate(-90 24.6 515.3)" fill="#000" stroke="#000" stroke-width="0.35">% Tumor Growth (Relative to Day Zero)</text>
<line x1="105.28" y1="549.4512" x2="105.28" y2="571.587" stroke="#555" stroke-width="1"/>
<line x1="103.78" y1="549.4512" x2="106.78" y2="549.4512" stroke="#555" stroke-width="1"/>
<line x1="103.78" y1="571.587" x2="106.78" y2="571.587" stroke="#555" stroke-width="1"/>
<line x1="141.36" y1="515.5469999999999" x2="141.36" y2="589.8" stroke="#555" stroke-width="1"/>
<line x1="139.86" y1="515.5469999999999" x2="142.86" y2="515.5469999999999" stroke="#555" stroke-width="1"/>
<line x1="139.86" y1="589.8" x2="142.86" y2="589.8" stroke="#555" stroke-width="1"/>
<line x1="177.44" y1="456.7049999999999" x2="177.44" y2="589.8" stroke="#555" stroke-width="1"/>
<line x1="175.94" y1="456.7049999999999" x2="178.94" y2="456.7049999999999" stroke="#555" stroke-width="1"/>
<line x1="175.94" y1="589.8" x2="178.94" y2="589.8" stroke="#555" stroke-width="1"/>
<line x1="213.51999999999998" y1="526.755" x2="213.51999999999998" y2="581.394" stroke="#555" stroke-width="1"/>
<line x1="212.01999999999998" y1="526.755" x2="215.01999999999998" y2="526.755" stroke="#555" stroke-width="1"/>
<line x1="212.01999999999998" y1="581.394" x2="215.01999999999998" y2="581.394" stroke="#555" stroke-width="1"/>
<line x1="249.59999999999997" y1="514.146" x2="249.59999999999997" y2="575.79" stroke="#555" stroke-width="1"/>
<line x1="248.09999999999997" y1="514.146" x2="251.09999999999997" y2="514.146" stroke="#555" stroke-width="1"/>
<line x1="248.09999999999997" y1="575.79" x2="251.09999999999997" y2="575.79" stroke="#555" stroke-width="1"/>
<line x1="140.16000000000003" y1="530" x2="142.56" y2="530" stroke="#555" stroke-width="0.8"/>
<line x1="140.16000000000003" y1="540" x2="142.56" y2="540" stroke="#555" stroke-width="0.8"/>
<line x1="140.16000000000003" y1="551" x2="142.56" y2="551" stroke="#555" stroke-width="0.8"/>
<line x1="140.16000000000003" y1="575" x2="142.56" y2="575" stroke="#555" stroke-width="0.8"/>
<line x1="176.24" y1="520" x2="178.64" y2="520" stroke="#555" stroke-width="0.8"/>
<line x1="176.24" y1="527" x2="178.64" y2="527" stroke="#555" stroke-width="0.8"/>
<line x1="176.24" y1="556" x2="178.64" y2="556" stroke="#555" stroke-width="0.8"/>
<line x1="176.24" y1="563" x2="178.64" y2="563" stroke="#555" stroke-width="0.8"/>
<polyline points="69.20,561.78 105.28,542.17 141.36,519.75 177.44,502.94" fill="none" stroke="#000" stroke-width="2" stroke-dasharray="5,3" stroke-linejoin="round"/>
<polyline points="69.20,561.78 105.28,554.77 141.36,537.96 177.44,527.60" fill="none" stroke="#000" stroke-width="2" stroke-linejoin="round"/>
<polyline points="69.20,561.78 105.28,563.74 141.36,537.40 177.44,515.83" fill="none" stroke="#000" stroke-width="2" stroke-linejoin="round"/>
<polyline points="69.20,561.78 105.28,584.76 141.36,576.35 177.44,567.38 213.52,554.77 249.60,545.81" fill="none" stroke="#000" stroke-width="2" stroke-linejoin="round"/>
<polygon points="69.20,557.78 73.20,561.78 69.20,565.78 65.20,561.78" fill="#000"/>
<polygon points="105.28,538.17 109.28,542.17 105.28,546.17 101.28,542.17" fill="#000"/>
<polygon points="141.36,515.75 145.36,519.75 141.36,523.75 137.36,519.75" fill="#000"/>
<polygon points="177.44,498.94 181.44,502.94 177.44,506.94 173.44,502.94" fill="#000"/>
<rect x="65.60" y="558.18" width="7.2" height="7.2" fill="#000"/>
<rect x="101.68" y="551.17" width="7.2" height="7.2" fill="#000"/>
<rect x="137.76" y="534.36" width="7.2" height="7.2" fill="#000"/>
<rect x="173.84" y="524.00" width="7.2" height="7.2" fill="#000"/>
<circle cx="69.20" cy="561.78" r="3.75" fill="#000"/>
<circle cx="105.28" cy="563.74" r="3.75" fill="#000"/>
<circle cx="141.36" cy="537.40" r="3.75" fill="#000"/>
<circle cx="177.44" cy="515.83" r="3.75" fill="#000"/>
<polygon points="69.20,557.38 73.20,564.98 65.20,564.98" fill="#000"/>
<polygon points="105.28,580.36 109.28,587.96 101.28,587.96" fill="#000"/>
<polygon points="141.36,571.95 145.36,579.55 137.36,579.55" fill="#000"/>
<polygon points="177.44,562.98 181.44,570.58 173.44,570.58" fill="#000"/>
<polygon points="213.52,550.38 217.52,557.98 209.52,557.98" fill="#000"/>
<polygon points="249.60,541.41 253.60,549.01 245.60,549.01" fill="#000"/>
<polyline points="179.00,527.00 183.00,527.00 183.00,562.70" fill="none" stroke="#000" stroke-width="1.4" stroke-linejoin="round"/>
<line x1="193.2" y1="501.5" x2="193.2" y2="559.5" stroke="#000" stroke-width="1.4"/>
<polygon points="189.20,543.90 189.99,545.51 191.77,545.77 190.48,547.02 190.79,548.78 189.20,547.95 187.61,548.78 187.92,547.02 186.63,545.77 188.41,545.51" fill="#000" stroke="#000" stroke-width="0.5" stroke-linejoin="round"/>
<polygon points="198.70,529.50 199.49,531.11 201.27,531.37 199.98,532.62 200.29,534.38 198.70,533.55 197.11,534.38 197.42,532.62 196.13,531.37 197.91,531.11" fill="#000" stroke="#000" stroke-width="0.5" stroke-linejoin="round"/>
<line x1="26" y1="627.8" x2="31.4" y2="627.8" stroke="#000" stroke-width="1.8"/>
<line x1="34.2" y1="627.8" x2="41.5" y2="627.8" stroke="#000" stroke-width="1.8"/>
<line x1="42.3" y1="627.8" x2="47.3" y2="627.8" stroke="#000" stroke-width="1.8"/>
<polygon points="37.80,624.45 41.05,627.70 37.80,630.95 34.55,627.70" fill="#000"/>
<text x="54.5" y="632" font-size="8.9" text-anchor="start" fill="#000" stroke="#000" stroke-width="0.35">PBS + Ganc</text>
<line x1="142.7" y1="628.4" x2="163.8" y2="628.4" stroke="#000" stroke-width="1.6"/>
<rect x="150.80" y="625.90" width="5" height="5" fill="#000"/>
<text x="173.5" y="632.5" font-size="9.0" text-anchor="start" fill="#000" stroke="#000" stroke-width="0.35">AT 2G9 + Ganc</text>
<line x1="257.5" y1="629.7" x2="264.5" y2="629.7" stroke="#000" stroke-width="1.7"/>
<line x1="271.5" y1="629.7" x2="278.7" y2="629.7" stroke="#000" stroke-width="1.7"/>
<circle cx="268.80" cy="629.80" r="2.6" fill="#000"/>
<text x="287.5" y="633" font-size="8.9" text-anchor="start" fill="#000" stroke="#000" stroke-width="0.35">AT e.v.-HSV-TK + Ganc</text>
<line x1="390.6" y1="630.5" x2="411.7" y2="630.5" stroke="#000" stroke-width="1.8"/>
<polygon points="401.30,627.42 404.55,633.60 398.05,633.60" fill="#000"/>
<text x="418.5" y="633.5" font-size="8.9" text-anchor="start" fill="#000" stroke="#000" stroke-width="0.35">AT 2G9-HSV-TK + Ganc</text>
<text x="282.1" y="408.9" font-size="11.5" text-anchor="start" font-weight="bold" fill="#000" stroke="#000" stroke-width="0.3">F</text>
<line x1="314.5" y1="419" x2="314.5" y2="590.5" stroke="#b4b4b4" stroke-width="1"/>
<line x1="312" y1="590.5" x2="314.5" y2="590.5" stroke="#b4b4b4" stroke-width="1"/>
<text x="311" y="593.7" font-size="8.7" text-anchor="end" fill="#000" stroke="#000" stroke-width="0.35">0</text>
<line x1="312" y1="556.5" x2="314.5" y2="556.5" stroke="#b4b4b4" stroke-width="1"/>
<text x="311" y="559.6030000000001" font-size="8.7" text-anchor="end" fill="#000" stroke="#000" stroke-width="0.35">70</text>
<line x1="312" y1="522.5" x2="314.5" y2="522.5" stroke="#b4b4b4" stroke-width="1"/>
<text x="311" y="525.5060000000001" font-size="8.7" text-anchor="end" fill="#000" stroke="#000" stroke-width="0.35">140</text>
<line x1="312" y1="488.5" x2="314.5" y2="488.5" stroke="#b4b4b4" stroke-width="1"/>
<text x="311" y="491.409" font-size="8.7" text-anchor="end" fill="#000" stroke="#000" stroke-width="0.35">210</text>
<line x1="312" y1="454.5" x2="314.5" y2="454.5" stroke="#b4b4b4" stroke-width="1"/>
<text x="311" y="457.31199999999995" font-size="8.7" text-anchor="end" fill="#000" stroke="#000" stroke-width="0.35">280</text>
<line x1="312" y1="420.5" x2="314.5" y2="420.5" stroke="#b4b4b4" stroke-width="1"/>
<text x="311" y="423.215" font-size="8.7" text-anchor="end" fill="#000" stroke="#000" stroke-width="0.35">350</text>
<line x1="314.5" y1="590.5" x2="496" y2="590.5" stroke="#b4b4b4" stroke-width="1"/>
<line x1="341.12" y1="590.5" x2="341.12" y2="592.5" stroke="#b4b4b4" stroke-width="1"/>
<line x1="366.96" y1="590.5" x2="366.96" y2="592.5" stroke="#b4b4b4" stroke-width="1"/>
<line x1="392.8" y1="590.5" x2="392.8" y2="592.5" stroke="#b4b4b4" stroke-width="1"/>
<line x1="418.64" y1="590.5" x2="418.64" y2="592.5" stroke="#b4b4b4" stroke-width="1"/>
<line x1="444.48" y1="590.5" x2="444.48" y2="592.5" stroke="#b4b4b4" stroke-width="1"/>
<line x1="470.32" y1="590.5" x2="470.32" y2="592.5" stroke="#b4b4b4" stroke-width="1"/>
<text x="328.2" y="603.3" font-size="8.8" text-anchor="middle" fill="#000" stroke="#000" stroke-width="0.35">0</text>
<text x="354.03999999999996" y="604.0999999999999" font-size="8.8" text-anchor="middle" fill="#000" stroke="#000" stroke-width="0.35">2</text>
<text x="379.88" y="603.3" font-size="8.8" text-anchor="middle" fill="#000" stroke="#000" stroke-width="0.35">4</text>
<text x="405.71999999999997" y="603.3" font-size="8.8" text-anchor="middle" fill="#000" stroke="#000" stroke-width="0.35">6</text>
<text x="431.56" y="603.3" font-size="8.8" text-anchor="middle" fill="#000" stroke="#000" stroke-width="0.35">8</text>
<text x="457.4" y="603.3" font-size="8.8" text-anchor="middle" fill="#000" stroke="#000" stroke-width="0.35">10</text>
<text x="483.24" y="603.3" font-size="8.8" text-anchor="middle" fill="#000" stroke="#000" stroke-width="0.35">12</text>
<text x="408.2" y="613.2" font-size="9.0" text-anchor="middle" fill="#000" stroke="#000" stroke-width="0.35">Days (post-injection [i.v.])</text>
<text x="285.5" y="509.8" font-size="8.5" text-anchor="middle" transform="rotate(-90 285.5 509.8)" fill="#000" stroke="#000" stroke-width="0.35">% Tumor Growth (Relative to Day Zero)</text>
<line x1="354.03999999999996" y1="513.8" x2="354.03999999999996" y2="558.8" stroke="#555" stroke-width="0.9"/>
<line x1="352.78999999999996" y1="513.8" x2="355.28999999999996" y2="513.8" stroke="#555" stroke-width="0.9"/>
<line x1="352.78999999999996" y1="558.8" x2="355.28999999999996" y2="558.8" stroke="#555" stroke-width="0.9"/>
<line x1="379.88" y1="482.5" x2="379.88" y2="578.8" stroke="#555" stroke-width="0.9"/>
<line x1="378.63" y1="482.5" x2="381.13" y2="482.5" stroke="#555" stroke-width="0.9"/>
<line x1="378.63" y1="578.8" x2="381.13" y2="578.8" stroke="#555" stroke-width="0.9"/>
<line x1="405.71999999999997" y1="475" x2="405.71999999999997" y2="582.5" stroke="#555" stroke-width="0.9"/>
<line x1="404.46999999999997" y1="475" x2="406.96999999999997" y2="475" stroke="#555" stroke-width="0.9"/>
<line x1="404.46999999999997" y1="582.5" x2="406.96999999999997" y2="582.5" stroke="#555" stroke-width="0.9"/>
<line x1="431.56" y1="447" x2="431.56" y2="584.4" stroke="#555" stroke-width="0.9"/>
<line x1="430.31" y1="447" x2="432.81" y2="447" stroke="#555" stroke-width="0.9"/>
<line x1="430.31" y1="584.4" x2="432.81" y2="584.4" stroke="#555" stroke-width="0.9"/>
<line x1="457.4" y1="479.4" x2="457.4" y2="590.5" stroke="#555" stroke-width="0.9"/>
<line x1="456.15" y1="479.4" x2="458.65" y2="479.4" stroke="#555" stroke-width="0.9"/>
<line x1="456.15" y1="590.5" x2="458.65" y2="590.5" stroke="#555" stroke-width="0.9"/>
<line x1="483.24" y1="431.4" x2="483.24" y2="590.5" stroke="#555" stroke-width="0.9"/>
<line x1="481.99" y1="431.4" x2="484.49" y2="431.4" stroke="#555" stroke-width="0.9"/>
<line x1="481.99" y1="590.5" x2="484.49" y2="590.5" stroke="#555" stroke-width="0.9"/>
<line x1="352.84" y1="520" x2="355.23999999999995" y2="520" stroke="#555" stroke-width="0.8"/>
<line x1="352.84" y1="525" x2="355.23999999999995" y2="525" stroke="#555" stroke-width="0.8"/>
<line x1="352.84" y1="548" x2="355.23999999999995" y2="548" stroke="#555" stroke-width="0.8"/>
<line x1="352.84" y1="552" x2="355.23999999999995" y2="552" stroke="#555" stroke-width="0.8"/>
<line x1="378.68" y1="490" x2="381.08" y2="490" stroke="#555" stroke-width="0.8"/>
<line x1="378.68" y1="497" x2="381.08" y2="497" stroke="#555" stroke-width="0.8"/>
<line x1="378.68" y1="545" x2="381.08" y2="545" stroke="#555" stroke-width="0.8"/>
<line x1="378.68" y1="556" x2="381.08" y2="556" stroke="#555" stroke-width="0.8"/>
<line x1="378.68" y1="569" x2="381.08" y2="569" stroke="#555" stroke-width="0.8"/>
<line x1="378.68" y1="572" x2="381.08" y2="572" stroke="#555" stroke-width="0.8"/>
<line x1="404.52" y1="487" x2="406.91999999999996" y2="487" stroke="#555" stroke-width="0.8"/>
<line x1="404.52" y1="495" x2="406.91999999999996" y2="495" stroke="#555" stroke-width="0.8"/>
<line x1="404.52" y1="520" x2="406.91999999999996" y2="520" stroke="#555" stroke-width="0.8"/>
<line x1="404.52" y1="553" x2="406.91999999999996" y2="553" stroke="#555" stroke-width="0.8"/>
<line x1="404.52" y1="567" x2="406.91999999999996" y2="567" stroke="#555" stroke-width="0.8"/>
<line x1="430.36" y1="463" x2="432.76" y2="463" stroke="#555" stroke-width="0.8"/>
<line x1="430.36" y1="470" x2="432.76" y2="470" stroke="#555" stroke-width="0.8"/>
<line x1="430.36" y1="531" x2="432.76" y2="531" stroke="#555" stroke-width="0.8"/>
<line x1="430.36" y1="545" x2="432.76" y2="545" stroke="#555" stroke-width="0.8"/>
<line x1="430.36" y1="571" x2="432.76" y2="571" stroke="#555" stroke-width="0.8"/>
<line x1="456.2" y1="487" x2="458.59999999999997" y2="487" stroke="#555" stroke-width="0.8"/>
<line x1="456.2" y1="495" x2="458.59999999999997" y2="495" stroke="#555" stroke-width="0.8"/>
<line x1="456.2" y1="528" x2="458.59999999999997" y2="528" stroke="#555" stroke-width="0.8"/>
<line x1="456.2" y1="550" x2="458.59999999999997" y2="550" stroke="#555" stroke-width="0.8"/>
<line x1="482.04" y1="440" x2="484.44" y2="440" stroke="#555" stroke-width="0.8"/>
<line x1="482.04" y1="447" x2="484.44" y2="447" stroke="#555" stroke-width="0.8"/>
<line x1="482.04" y1="500" x2="484.44" y2="500" stroke="#555" stroke-width="0.8"/>
<line x1="482.04" y1="527" x2="484.44" y2="527" stroke="#555" stroke-width="0.8"/>
<line x1="482.04" y1="548" x2="484.44" y2="548" stroke="#555" stroke-width="0.8"/>
<polyline points="328.20,541.30 354.04,525.00 379.88,505.00 405.72,501.00 431.56,490.50 457.40,492.60 483.24,455.40" fill="none" stroke="#000" stroke-width="1.9" stroke-dasharray="4.5,3" stroke-linejoin="round"/>
<polyline points="328.20,541.30 354.04,530.50 379.88,530.50 405.72,507.60 431.56,507.60 457.40,516.60 483.24,492.00" fill="none" stroke="#000" stroke-width="1.9" stroke-linejoin="round"/>
<polyline points="328.20,541.30 354.04,535.50 379.88,540.50 405.72,541.50 431.56,538.50 457.40,538.50 483.24,517.00" fill="none" stroke="#000" stroke-width="1.9" stroke-linejoin="round"/>
<polyline points="328.20,541.30 354.04,546.50 379.88,562.50 405.72,562.50 431.56,562.50 457.40,560.40 483.24,563.40" fill="none" stroke="#000" stroke-width="1.9" stroke-linejoin="round"/>
<polygon points="328.20,538.05 331.45,541.30 328.20,544.55 324.95,541.30" fill="#000"/>
<polygon points="354.04,521.75 357.29,525.00 354.04,528.25 350.79,525.00" fill="#000"/>
<polygon points="379.88,501.75 383.13,505.00 379.88,508.25 376.63,505.00" fill="#000"/>
<polygon points="405.72,497.75 408.97,501.00 405.72,504.25 402.47,501.00" fill="#000"/>
<polygon points="431.56,487.25 434.81,490.50 431.56,493.75 428.31,490.50" fill="#000"/>
<polygon points="457.40,489.35 460.65,492.60 457.40,495.85 454.15,492.60" fill="#000"/>
<polygon points="483.24,452.15 486.49,455.40 483.24,458.65 479.99,455.40" fill="#000"/>
<circle cx="328.20" cy="541.30" r="3.25" fill="#000"/>
<circle cx="354.04" cy="530.50" r="3.25" fill="#000"/>
<circle cx="379.88" cy="530.50" r="3.25" fill="#000"/>
<circle cx="405.72" cy="507.60" r="3.25" fill="#000"/>
<circle cx="431.56" cy="507.60" r="3.25" fill="#000"/>
<circle cx="457.40" cy="516.60" r="3.25" fill="#000"/>
<circle cx="483.24" cy="492.00" r="3.25" fill="#000"/>
<rect x="325.20" y="538.30" width="6" height="6" fill="#000"/>
<rect x="351.04" y="532.50" width="6" height="6" fill="#000"/>
<rect x="376.88" y="537.50" width="6" height="6" fill="#000"/>
<rect x="402.72" y="538.50" width="6" height="6" fill="#000"/>
<rect x="428.56" y="535.50" width="6" height="6" fill="#000"/>
<rect x="454.40" y="535.50" width="6" height="6" fill="#000"/>
<rect x="480.24" y="514.00" width="6" height="6" fill="#000"/>
<polygon points="328.20,537.72 331.45,543.90 324.95,543.90" fill="#000"/>
<polygon points="354.04,542.92 357.29,549.10 350.79,549.10" fill="#000"/>
<polygon points="379.88,558.92 383.13,565.10 376.63,565.10" fill="#000"/>
<polygon points="405.72,558.92 408.97,565.10 402.47,565.10" fill="#000"/>
<polygon points="431.56,558.92 434.81,565.10 428.31,565.10" fill="#000"/>
<polygon points="457.40,556.82 460.65,563.00 454.15,563.00" fill="#000"/>
<polygon points="483.24,559.82 486.49,566.00 479.99,566.00" fill="#000"/>
<line x1="487.6" y1="455.5" x2="487.6" y2="486.5" stroke="#000" stroke-width="1.3"/>
<line x1="487.6" y1="522" x2="487.6" y2="559.5" stroke="#000" stroke-width="1.3"/>
<line x1="503.5" y1="451.5" x2="503.5" y2="520" stroke="#000" stroke-width="1.3"/>
<line x1="513.4" y1="451.5" x2="513.4" y2="564" stroke="#000" stroke-width="1.3"/>
<text x="496" y="474" font-size="8.7" text-anchor="middle" fill="#000" stroke="#000" stroke-width="0.35">n.s</text>
<polygon points="493.40,538.60 494.19,540.21 495.97,540.47 494.68,541.72 494.99,543.48 493.40,542.65 491.81,543.48 492.12,541.72 490.83,540.47 492.61,540.21" fill="#000" stroke="#000" stroke-width="0.5" stroke-linejoin="round"/>
<polygon points="507.80,486.90 508.59,488.51 510.37,488.77 509.08,490.02 509.39,491.78 507.80,490.95 506.21,491.78 506.52,490.02 505.23,488.77 507.01,488.51" fill="#000" stroke="#000" stroke-width="0.5" stroke-linejoin="round"/>
<polygon points="518.20,512.90 518.99,514.51 520.77,514.77 519.48,516.02 519.79,517.78 518.20,516.95 516.61,517.78 516.92,516.02 515.63,514.77 517.41,514.51" fill="#000" stroke="#000" stroke-width="0.5" stroke-linejoin="round"/>
</svg></body></html>
